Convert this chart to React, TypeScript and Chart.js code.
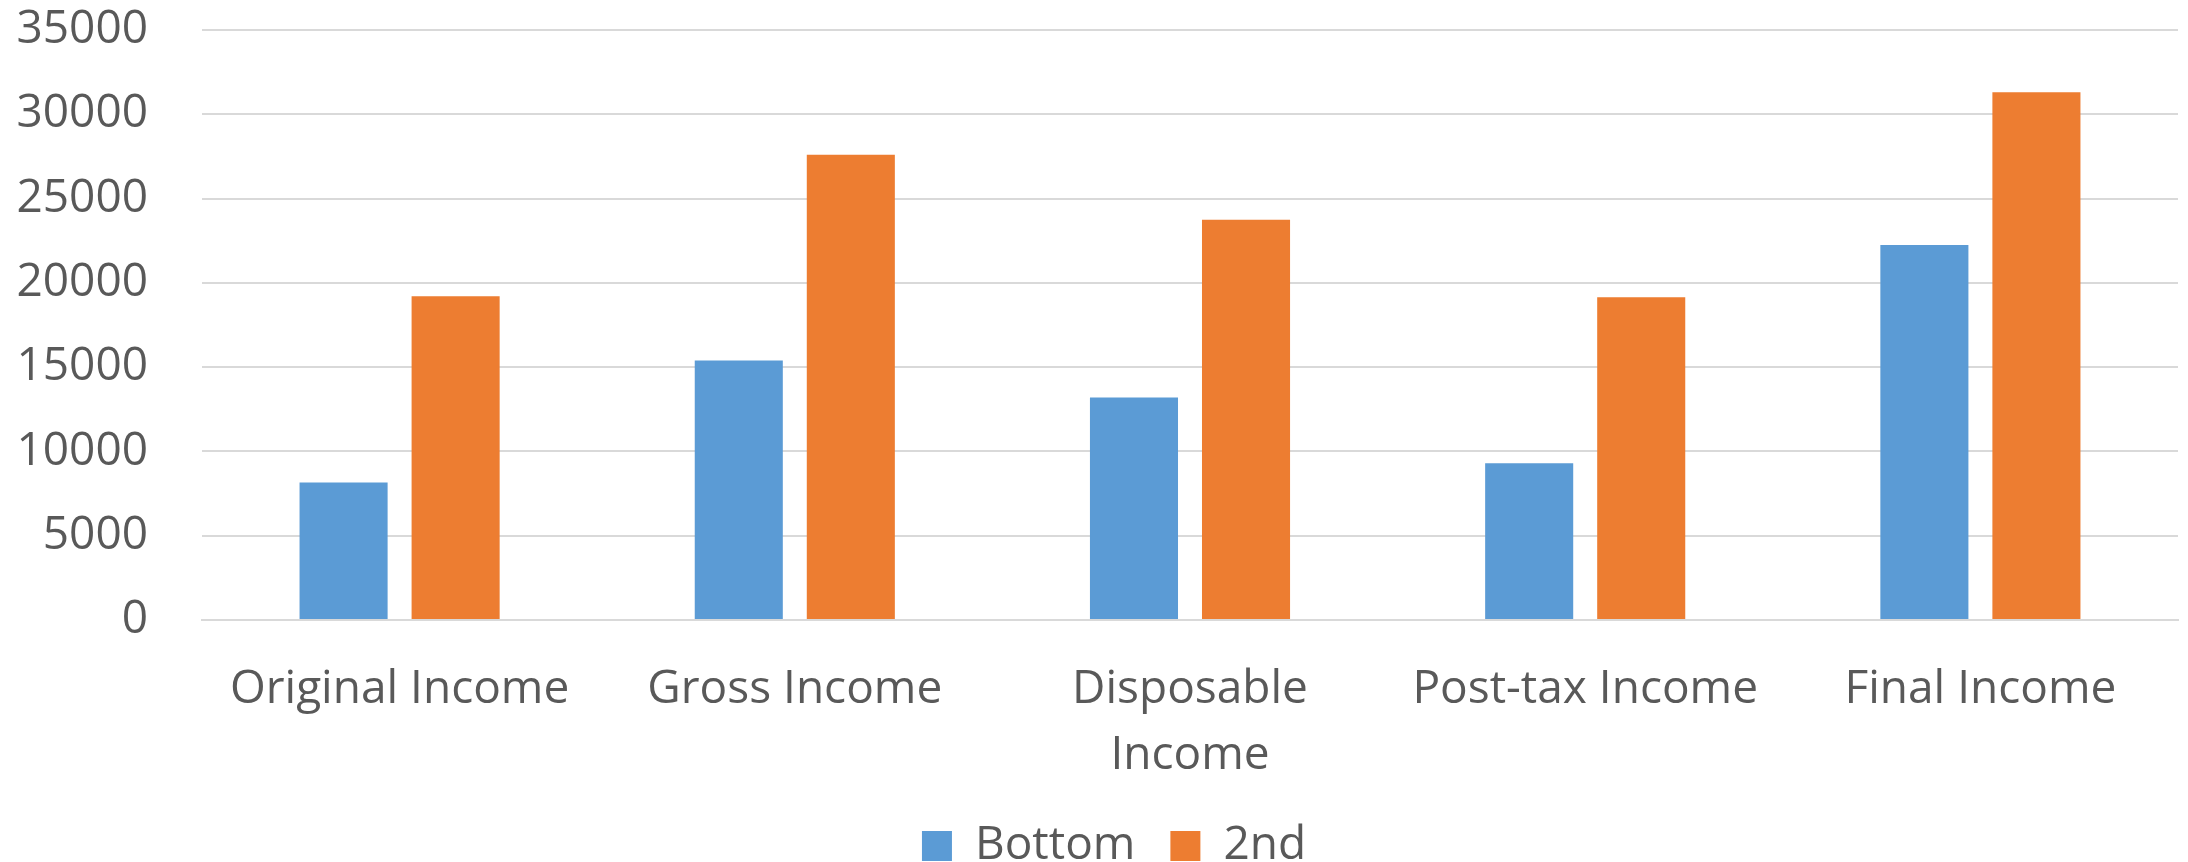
import React, { useEffect, useRef } from "react";
import { Chart, registerables } from "chart.js";

Chart.register(...registerables);

const categories: (string | string[])[] = [
  "Original Income",
  "Gross Income",
  ["Disposable", "Income"],
  "Post-tax Income",
  "Final Income",
];
const bottomValues = [8150, 15400, 13200, 9300, 22250];
const secondValues = [19200, 27600, 23750, 19150, 31300];
const seriesNames = ["Bottom", "2nd"];
const yMin = 0;
const yMax = 35000;
const yStep = 5000;

const TEXT = "#595959";
const FONT = "'Open Sans', 'Noto Sans', sans-serif";

const legendShift = {
  id: "legendShift",
  afterLayout(chart: any) {
    if (chart.legend) {
      chart.legend.left += 25;
      chart.legend.right += 25;
    }
  },
};

export default function App() {
  const ref = useRef<HTMLCanvasElement | null>(null);

  useEffect(() => {
    document.body.style.margin = "0";
    const canvas = ref.current;
    if (!canvas) return;
    const chart = new Chart(canvas, {
      type: "bar",
      data: {
        labels: categories,
        datasets: [
          {
            label: seriesNames[0],
            data: bottomValues,
            backgroundColor: "#5B9BD5",
            categoryPercentage: 0.567,
            barPercentage: 0.786,
          },
          {
            label: seriesNames[1],
            data: secondValues,
            backgroundColor: "#ED7D31",
            categoryPercentage: 0.567,
            barPercentage: 0.786,
          },
        ],
      },
      plugins: [legendShift],
      options: {
        responsive: false,
        animation: false,
        layout: { padding: { left: 0, right: 10, top: 30, bottom: -17 } },
        plugins: {
          tooltip: { enabled: false },
          legend: {
            position: "bottom",
            labels: {
              color: TEXT,
              font: { family: FONT, size: 46 },
              boxWidth: 30,
              boxHeight: 30,
              padding: 35,
            },
          },
        },
        scales: {
          x: {
            grid: { display: false, drawTicks: false },
            border: { display: true, color: "#d9d9d9", width: 2 },
            ticks: {
              color: TEXT,
              font: { family: FONT, size: 46, lineHeight: 1.435 },
              padding: 37,
              maxRotation: 0,
              autoSkip: false,
            },
            afterFit: (scale: any) => {
              scale.height = 168;
            },
          },
          y: {
            min: yMin,
            max: yMax,
            grid: { color: "#d9d9d9", lineWidth: 2, drawTicks: false },
            border: { display: false },
            ticks: {
              stepSize: yStep,
              color: TEXT,
              font: { family: FONT, size: 46 },
              padding: 54,
              callback: (v: any) => String(v),
            },
            afterFit: (scale: any) => {
              scale.width = 202;
              scale.paddingTop = 0;
              scale.paddingBottom = 0;
            },
          },
        },
      },
    });
    return () => chart.destroy();
  }, []);

  return (
    <div style={{ width: 2188, height: 862 }}>
      <canvas ref={ref} width={2188} height={862} />
    </div>
  );
}
